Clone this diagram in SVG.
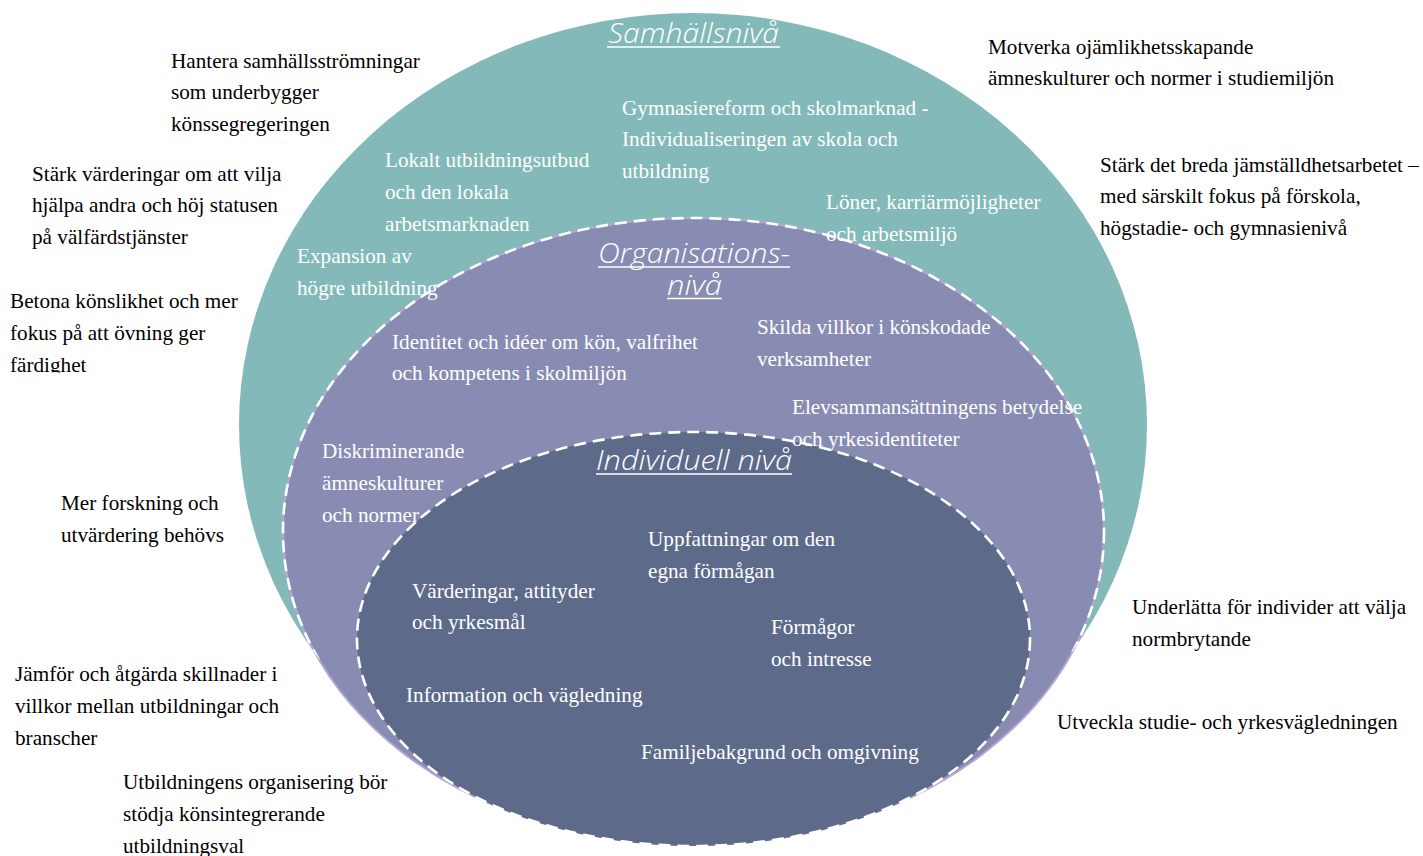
<svg xmlns="http://www.w3.org/2000/svg" width="1423" height="856" viewBox="0 0 1423 856">
<style>
  .t { font-family: "Liberation Serif", "Times New Roman", serif; font-size: 21.2px; }
  .b { fill: #000000; }
  .w { fill: #ffffff; }
  .title { font-family: "Open Sans", "Noto Sans", "DejaVu Sans", sans-serif; font-style: italic; font-weight: 300; font-size: 28px; fill: #ffffff; }
  .ul { stroke: #ffffff; stroke-width: 1.6; }
  .dash { fill: none; stroke: #ffffff; stroke-width: 2.6; stroke-dasharray: 12 7; }
</style>
<defs>
  <clipPath id="tealClip">
    <ellipse cx="693" cy="425" rx="454" ry="412"/>
  </clipPath>
  <clipPath id="cropBetona">
    <rect x="0" y="280" width="300" height="92.5"/>
  </clipPath>
</defs>
<rect x="0" y="0" width="1423" height="856" fill="#ffffff"/>

<g id="samhallsniva">
  <ellipse cx="693" cy="425" rx="454" ry="412" fill="#83BAB9"/>
</g>
<g id="organisationsniva">
  <ellipse cx="693.5" cy="531.5" rx="410.5" ry="313.5" fill="#898CB2" stroke="#B6A6D4" stroke-width="2"/>
  <ellipse cx="693.5" cy="531.5" rx="410.5" ry="313.5" class="dash" clip-path="url(#tealClip)"/>
</g>
<g id="individuell-niva">
  <ellipse cx="693.5" cy="639" rx="336.5" ry="207" fill="#5E6A8A"/>
  <ellipse cx="693.5" cy="639" rx="336.5" ry="207" class="dash"/>
</g>

<g id="titles">
  <text class="title" x="608" y="43" textLength="171" lengthAdjust="spacingAndGlyphs">Samhällsnivå</text>
  <line class="ul" x1="607" y1="47" x2="780" y2="47"/>
  <text class="title" x="598" y="263" textLength="192" lengthAdjust="spacingAndGlyphs">Organisations-</text>
  <line class="ul" x1="598" y1="267" x2="790" y2="267"/>
  <text class="title" x="667" y="295" textLength="55" lengthAdjust="spacingAndGlyphs">nivå</text>
  <line class="ul" x1="667" y1="298.5" x2="722" y2="298.5"/>
  <text class="title" x="596" y="470" textLength="196" lengthAdjust="spacingAndGlyphs">Individuell nivå</text>
  <line class="ul" x1="596" y1="474" x2="792" y2="474"/>
</g>

<g id="samhalle-faktorer" class="t w">
  <text x="622" y="115">Gymnasiereform och skolmarknad -</text>
  <text x="622" y="146">Individualiseringen av skola och</text>
  <text x="622" y="178">utbildning</text>
  <text x="385" y="167">Lokalt utbildningsutbud</text>
  <text x="385" y="199">och den lokala</text>
  <text x="385" y="231">arbetsmarknaden</text>
  <text x="826" y="209">Löner, karriärmöjligheter</text>
  <text x="826" y="241">och arbetsmiljö</text>
  <text x="297" y="263">Expansion av</text>
  <text x="297" y="295">högre utbildning</text>
</g>

<g id="organisation-faktorer" class="t w">
  <text x="392" y="349">Identitet och idéer om kön, valfrihet</text>
  <text x="392" y="380">och kompetens i skolmiljön</text>
  <text x="757" y="334">Skilda villkor i könskodade</text>
  <text x="757" y="366">verksamheter</text>
  <text x="792" y="414">Elevsammansättningens betydelse</text>
  <text x="792" y="446">och yrkesidentiteter</text>
  <text x="322" y="458">Diskriminerande</text>
  <text x="322" y="490">ämneskulturer</text>
  <text x="322" y="522">och normer</text>
</g>

<g id="individ-faktorer" class="t w">
  <text x="648" y="546">Uppfattningar om den</text>
  <text x="648" y="578">egna förmågan</text>
  <text x="412" y="598">Värderingar, attityder</text>
  <text x="412" y="629">och yrkesmål</text>
  <text x="771" y="634">Förmågor</text>
  <text x="771" y="666">och intresse</text>
  <text x="406" y="702">Information och vägledning</text>
  <text x="641" y="759">Familjebakgrund och omgivning</text>
</g>

<g id="atgarder" class="t b">
  <g id="a1">
    <text x="171" y="68">Hantera samhällsströmningar</text>
    <text x="171" y="99">som underbygger</text>
    <text x="171" y="131">könssegregeringen</text>
  </g>
  <g id="a2">
    <text x="32" y="181">Stärk värderingar om att vilja</text>
    <text x="32" y="212">hjälpa andra och höj statusen</text>
    <text x="32" y="244">på välfärdstjänster</text>
  </g>
  <g id="a3" clip-path="url(#cropBetona)">
    <text x="10" y="308">Betona könslikhet och mer</text>
    <text x="10" y="340">fokus på att övning ger</text>
    <text x="10" y="372">färdighet</text>
  </g>
  <g id="a4">
    <text x="61" y="510">Mer forskning och</text>
    <text x="61" y="542">utvärdering behövs</text>
  </g>
  <g id="a5">
    <text x="15" y="681">Jämför och åtgärda skillnader i</text>
    <text x="15" y="713">villkor mellan utbildningar och</text>
    <text x="15" y="745">branscher</text>
  </g>
  <g id="a6">
    <text x="123" y="789">Utbildningens organisering bör</text>
    <text x="123" y="821">stödja könsintegrerande</text>
    <text x="123" y="853">utbildningsval</text>
  </g>
  <g id="a7">
    <text x="988" y="54">Motverka ojämlikhetsskapande</text>
    <text x="988" y="85">ämneskulturer och normer i studiemiljön</text>
  </g>
  <g id="a8">
    <text x="1100" y="172">Stärk det breda jämställdhetsarbetet –</text>
    <text x="1100" y="203">med särskilt fokus på förskola,</text>
    <text x="1100" y="235">högstadie- och gymnasienivå</text>
  </g>
  <g id="a9">
    <text x="1132" y="614">Underlätta för individer att välja</text>
    <text x="1132" y="646">normbrytande</text>
  </g>
  <g id="a10">
    <text x="1057" y="729">Utveckla studie- och yrkesvägledningen</text>
  </g>
</g>
</svg>
